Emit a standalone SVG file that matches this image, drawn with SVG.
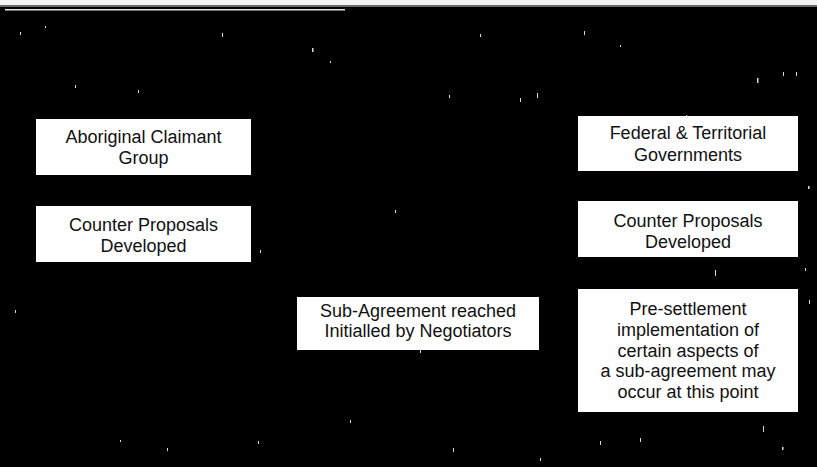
<svg xmlns="http://www.w3.org/2000/svg" width="817" height="467" viewBox="0 0 817 467">
  <style>
    .box { fill: #ffffff; }
    .lbl { font-family: "Liberation Sans", Arial, sans-serif; font-size: 18px; fill: #111111; text-anchor: middle; }
    .speck { fill: #d8d8d8; }
  </style>
  <rect x="0" y="0" width="817" height="467" fill="#000000"/>
  <rect x="0" y="0" width="817" height="5" fill="#f2f2f2"/>
  <rect x="0" y="5" width="817" height="2" fill="#6a6a6a"/>
  <rect x="5" y="9" width="340" height="1.5" fill="#e0e0e0"/>

  <g id="specks">
    <rect class="speck" x="20" y="32" width="1" height="3"/>
    <rect class="speck" x="45" y="26" width="1" height="2"/>
    <rect class="speck" x="75" y="85" width="1" height="3"/>
    <rect class="speck" x="138" y="90" width="1" height="3"/>
    <rect class="speck" x="222" y="33" width="1" height="4"/>
    <rect class="speck" x="312" y="48" width="1.5" height="4"/>
    <rect class="speck" x="330" y="61" width="1" height="2"/>
    <rect class="speck" x="449" y="95" width="1" height="3"/>
    <rect class="speck" x="537" y="93" width="1" height="5"/>
    <rect class="speck" x="520" y="98" width="1" height="4"/>
    <rect class="speck" x="480" y="34" width="1" height="3"/>
    <rect class="speck" x="584" y="31" width="1" height="4"/>
    <rect class="speck" x="620" y="45" width="1" height="2"/>
    <rect class="speck" x="686" y="115" width="1" height="5"/>
    <rect class="speck" x="757" y="78" width="1.5" height="5"/>
    <rect class="speck" x="783" y="72" width="1" height="4"/>
    <rect class="speck" x="796" y="72" width="1" height="4"/>
    <rect class="speck" x="808" y="186" width="1.5" height="3"/>
    <rect class="speck" x="805" y="268" width="1" height="3"/>
    <rect class="speck" x="809" y="300" width="1" height="4"/>
    <rect class="speck" x="40" y="224" width="1" height="2"/>
    <rect class="speck" x="15" y="310" width="1" height="3"/>
    <rect class="speck" x="260" y="250" width="1" height="3"/>
    <rect class="speck" x="395" y="210" width="1" height="3"/>
    <rect class="speck" x="420" y="350" width="1" height="3"/>
    <rect class="speck" x="350" y="420" width="1" height="3"/>
    <rect class="speck" x="258" y="441" width="1" height="3"/>
    <rect class="speck" x="167" y="448" width="1" height="3"/>
    <rect class="speck" x="453" y="448" width="1" height="4"/>
    <rect class="speck" x="600" y="441" width="1" height="4"/>
    <rect class="speck" x="640" y="438" width="1" height="4"/>
    <rect class="speck" x="763" y="426" width="1" height="6"/>
    <rect class="speck" x="782" y="447" width="1.5" height="3"/>
    <rect class="speck" x="715" y="270" width="1" height="6"/>
    <rect class="speck" x="540" y="458" width="1" height="3"/>
    <rect class="speck" x="120" y="440" width="1" height="2"/>
  </g>

  <g id="connectors"></g>

  <g id="node-aboriginal">
    <rect class="box" x="36" y="119" width="215" height="56"/>
    <text class="lbl" x="143.5" y="143">Aboriginal Claimant</text>
    <text class="lbl" x="143.5" y="164">Group</text>
  </g>

  <g id="node-counter-left">
    <rect class="box" x="36" y="206" width="215" height="56"/>
    <text class="lbl" x="143.5" y="231">Counter Proposals</text>
    <text class="lbl" x="143.5" y="252">Developed</text>
  </g>

  <g id="node-sub-agreement">
    <rect class="box" x="297" y="297" width="242" height="53"/>
    <text class="lbl" x="418" y="317">Sub-Agreement reached</text>
    <text class="lbl" x="418" y="337">Initialled by Negotiators</text>
  </g>

  <g id="node-federal">
    <rect class="box" x="578" y="116" width="220" height="55"/>
    <text class="lbl" x="688" y="139">Federal &amp; Territorial</text>
    <text class="lbl" x="688" y="161">Governments</text>
  </g>

  <g id="node-counter-right">
    <rect class="box" x="578" y="201" width="220" height="56"/>
    <text class="lbl" x="688" y="227">Counter Proposals</text>
    <text class="lbl" x="688" y="248">Developed</text>
  </g>

  <g id="node-pre-settlement">
    <rect class="box" x="578" y="289" width="220" height="123"/>
    <text class="lbl" x="688" y="315">Pre-settlement</text>
    <text class="lbl" x="688" y="336">implementation of</text>
    <text class="lbl" x="688" y="356.5">certain aspects of</text>
    <text class="lbl" x="688" y="377">a sub-agreement may</text>
    <text class="lbl" x="688" y="397.5">occur at this point</text>
  </g>
</svg>
